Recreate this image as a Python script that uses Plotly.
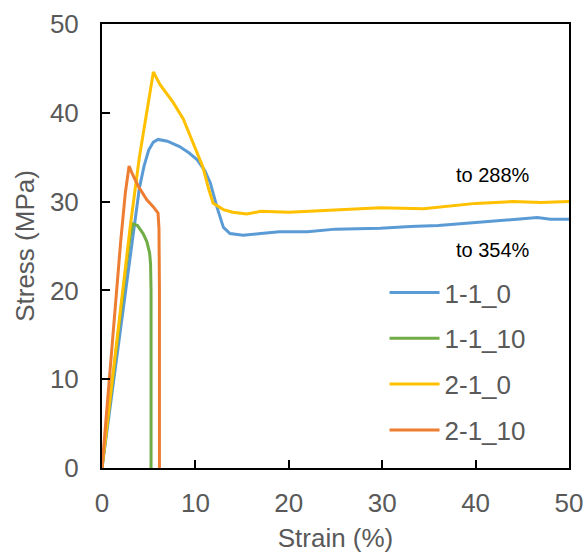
import plotly.graph_objects as go

# 1-1_0 (blue)
x_110 = [0, 1, 2, 3, 3.5, 4, 4.5, 5, 5.5, 6, 7, 8.3, 9.3, 10.2, 11, 11.6, 12.3, 13, 13.7, 15.1, 17, 19, 22, 25, 29.8, 33, 36, 40.5, 43, 46.6, 48, 50]
y_110 = [0, 8, 16, 24, 28, 31.5, 34, 35.8, 36.7, 37, 36.8, 36.2, 35.5, 34.7, 33.5, 32.1, 29.4, 27.1, 26.4, 26.2, 26.4, 26.6, 26.6, 26.9, 27.0, 27.2, 27.3, 27.7, 27.9, 28.2, 28.0, 28.0]
# 1-1_10 (green)
x_1110 = [0, 1, 2, 2.5, 3, 3.3, 3.8, 4.4, 4.8, 5.1, 5.2, 5.25, 5.25]
y_1110 = [0, 8.5, 17.5, 22, 26, 27.5, 27.3, 26.4, 25.5, 24.2, 23, 20, 0]
# 2-1_0 (yellow)
x_210 = [0, 1, 2, 3, 4, 5, 5.5, 6.2, 7.6, 8.7, 9.7, 10.8, 11.4, 11.9, 13, 14, 15.5, 17, 20, 22, 25, 29.8, 34.4, 37, 40, 44, 47, 50]
y_210 = [0, 9, 18, 27, 35, 41.5, 44.6, 43.2, 41.2, 39.3, 36.8, 33.9, 31.5, 29.8, 29.1, 28.8, 28.6, 28.9, 28.8, 28.9, 29.1, 29.3, 29.2, 29.5, 29.8, 30.0, 29.9, 30.0]
# 2-1_10 (orange)
x_2110 = [0, 0.5, 1, 1.5, 2, 2.5, 2.9, 3.3, 3.9, 4.8, 5.5, 6.0, 6.1, 6.15, 6.15]
y_2110 = [0, 6.5, 13, 19.5, 25.5, 31, 34, 33, 31.7, 30.2, 29.4, 28.7, 27, 20, 0]

names = ["1-1_0", "1-1_10", "2-1_0", "2-1_10"]
colors = ["#5B9BD5", "#70AD47", "#FFC000", "#ED7D31"]
xs = [x_110, x_1110, x_210, x_2110]
ys = [y_110, y_1110, y_210, y_2110]

fig = go.Figure()
for i, (n, c, x, y) in enumerate(zip(names, colors, xs, ys)):
    fig.add_trace(go.Scatter(x=x, y=y, mode="lines", name=n, legendgroup=n,
                             line=dict(color=c, width=3)))

FONT = "Liberation Sans, Arial, sans-serif"
axis_common = dict(
    showline=True, linecolor="black", linewidth=2, mirror=True,
    ticks="inside", ticklen=8, tickwidth=2, tickcolor="black",
    showgrid=False, zeroline=False, automargin=False,
    tickfont=dict(family=FONT, size=26, color="#595959"),
)
fig.update_xaxes(range=[0, 50], dtick=10, ticklabelstandoff=11,
                 title=dict(text="Strain (%)", font=dict(family=FONT, size=26, color="#595959"), standoff=12),
                 **axis_common)
fig.update_yaxes(range=[0, 50], dtick=10, ticklabelstandoff=16,
                 title=dict(text="Stress (MPa)", font=dict(family=FONT, size=26, color="#595959"), standoff=8),
                 **axis_common)

fig.add_annotation(x=41.9, y=33.0, text="to 288%", showarrow=False,
                   font=dict(family=FONT, size=20, color="black"))
fig.add_annotation(x=41.9, y=24.5, text="to 354%", showarrow=False,
                   font=dict(family=FONT, size=20, color="black"))

fig.update_layout(
    width=587, height=554,
    margin=dict(l=102, r=18, t=24, b=86),
    paper_bgcolor="white", plot_bgcolor="white",
    legend=dict(x=0.605, y=0.448, xanchor="left", yanchor="top",
                font=dict(family=FONT, size=26, color="#595959"),
                bgcolor="rgba(0,0,0,0)", itemwidth=50, tracegroupgap=9,
                traceorder="grouped"),
)
fig.write_html("out.html")
